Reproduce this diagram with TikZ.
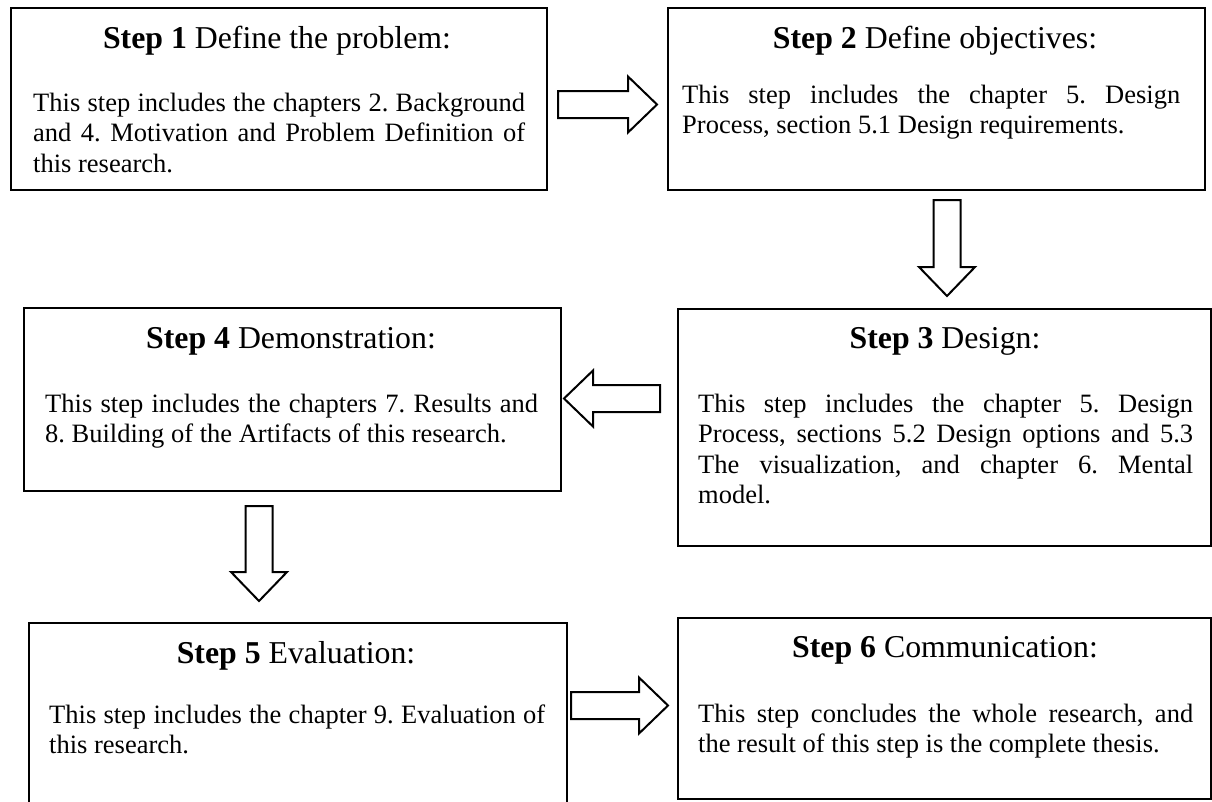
\documentclass[tikz,border=0pt]{standalone}
\usepackage{fontspec}
\setmainfont{Liberation Serif}
\usetikzlibrary{calc}
\tolerance=10000
\hbadness=10000
\frenchspacing
\tikzset{
  stepbox/.style={draw, line width=2.3pt, rectangle, inner sep=0pt, anchor=north west},
  head/.style={inner sep=0pt, anchor=base, font=\fontsize{31.8}{36}\selectfont},
  body/.style={inner sep=0pt, anchor=base west, align=justify,
    font=\fontsize{26.5}{30.5}\selectfont},
  % hollow block arrow from the start point (tail) to the target (tip)
  blockarrow/.style={draw, line width=2pt, line join=miter,
    to path={
      ($(\tikztostart)!13.5pt!90:(\tikztotarget)$)
      -- ($($(\tikztotarget)!29pt!(\tikztostart)$)!13.5pt!90:(\tikztotarget)$)
      -- ($($(\tikztotarget)!29pt!(\tikztostart)$)!28pt!90:(\tikztotarget)$)
      -- (\tikztotarget)
      -- ($($(\tikztotarget)!29pt!(\tikztostart)$)!28pt!-90:(\tikztotarget)$)
      -- ($($(\tikztotarget)!29pt!(\tikztostart)$)!13.5pt!-90:(\tikztotarget)$)
      -- ($(\tikztostart)!13.5pt!-90:(\tikztotarget)$)
      -- cycle
    }}
}
\begin{document}
\begin{tikzpicture}[x=1pt, y=-1pt]
\useasboundingbox (0,0) rectangle (1212,801);
\clip (0,0) rectangle (1212,801);
\fill[white] (0,0) rectangle (1212,801);

% step boxes
\node[stepbox, minimum width=536pt, minimum height=182pt] (s1) at (10,7) {};
\node[stepbox, minimum width=537pt, minimum height=182pt] (s2) at (667,7) {};
\node[stepbox, minimum width=533pt, minimum height=237pt] (s3) at (677,308) {};
\node[stepbox, minimum width=537pt, minimum height=183pt] (s4) at (23,307) {};
\node[stepbox, minimum width=538pt, minimum height=220pt] (s5) at (28,622) {};
\node[stepbox, minimum width=533pt, minimum height=181pt] (s6) at (677,617) {};

% headings
\node[head] (h1) at (277,48) {\textbf{Step 1} Define the problem:};
\node[head] (h2) at (935,48) {\textbf{Step 2} Define objectives:};
\node[head] (h3) at (945,348) {\textbf{Step 3} Design:};
\node[head] (h4) at (291,348) {\textbf{Step 4} Demonstration:};
\node[head] (h5) at (296,663) {\textbf{Step 5} Evaluation:};
\node[head] (h6) at (945,657) {\textbf{Step 6} Communication:};

% descriptions
\node[body, text width=492pt] (b1) at (33,111)
  {This step includes the chapters 2. Background\linebreak
   and 4. Motivation and Problem Definition of\linebreak
   this research.};
\node[body, text width=498pt] (b2) at (682,103)
  {This step includes the chapter 5. Design\linebreak
   Process, section 5.1 Design requirements.};
\node[body, text width=495pt] (b3) at (698,412)
  {This step includes the chapter 5. Design\linebreak
   Process, sections 5.2 Design options and 5.3\linebreak
   The visualization, and chapter 6. Mental\linebreak
   model.};
\node[body, text width=493pt] (b4) at (45,412)
  {This step includes the chapters 7. Results and\linebreak
   8. Building of the Artifacts of this research.};
\node[body, text width=496pt] (b5) at (49,723)
  {This step includes the chapter 9. Evaluation of\linebreak
   this research.};
\node[body, text width=495pt] (b6) at (698,722)
  {This step concludes the whole research, and\linebreak
   the result of this step is the complete thesis.};

% arrow ends
\coordinate (t12) at (558,104.5);  \coordinate (p12) at (657,104.5);
\coordinate (t23) at (947,200);    \coordinate (p23) at (947,296);
\coordinate (t34) at (660,398.5);  \coordinate (p34) at (564,398.5);
\coordinate (t45) at (259,506);    \coordinate (p45) at (259,601);
\coordinate (t56) at (571,705.5);  \coordinate (p56) at (668,705.5);

\draw[blockarrow] (t12) to (p12);
\draw[blockarrow] (t23) to (p23);
\draw[blockarrow] (t34) to (p34);
\draw[blockarrow] (t45) to (p45);
\draw[blockarrow] (t56) to (p56);
\end{tikzpicture}
\end{document}
